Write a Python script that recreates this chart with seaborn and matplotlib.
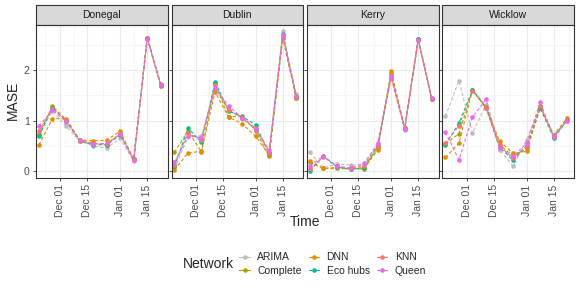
import pandas as pd
import matplotlib
matplotlib.use('Agg')
import matplotlib.pyplot as plt
import matplotlib.dates as mdates
from matplotlib.patches import Rectangle
from matplotlib.lines import Line2D
from matplotlib.ticker import MultipleLocator
import seaborn as sns

# weekly forecast dates
dates = pd.date_range('2020-11-20', periods=10, freq='7D')

regions = ['Donegal', 'Dublin', 'Kerry', 'Wicklow']
networks = ['ARIMA', 'Complete', 'DNN', 'Eco hubs', 'KNN', 'Queen']
colors = ['#BDBDBD', '#B3A000', '#DF8F00', '#00BF8E', '#F8766D', '#EA6AEE']

# MASE per network, one dict per region
donegal = {
    'ARIMA':    [0.72, 1.19, 0.89, 0.60, 0.50, 0.45, 0.65, 0.19, 2.62, 1.68],
    'Complete': [0.74, 1.29, 1.02, 0.62, 0.55, 0.52, 0.74, 0.23, 2.65, 1.71],
    'DNN':      [0.52, 1.04, 1.04, 0.62, 0.60, 0.61, 0.79, 0.23, 2.65, 1.69],
    'Eco hubs': [0.69, 1.26, 1.00, 0.59, 0.52, 0.52, 0.72, 0.23, 2.65, 1.71],
    'KNN':      [0.80, 1.24, 1.01, 0.60, 0.54, 0.53, 0.74, 0.22, 2.64, 1.72],
    'Queen':    [0.89, 1.21, 0.98, 0.61, 0.54, 0.55, 0.73, 0.22, 2.63, 1.70],
}
dublin = {
    'ARIMA':    [0.05, 0.67, 0.70, 1.62, 1.22, 1.04, 0.82, 0.37, 2.77, 1.52],
    'Complete': [0.37, 0.79, 0.38, 1.75, 1.07, 1.10, 0.80, 0.29, 2.65, 1.44],
    'DNN':      [0.02, 0.36, 0.39, 1.57, 1.07, 0.94, 0.69, 0.31, 2.65, 1.45],
    'Eco hubs': [0.09, 0.85, 0.57, 1.77, 1.19, 1.08, 0.92, 0.35, 2.72, 1.47],
    'KNN':      [0.12, 0.75, 0.62, 1.70, 1.22, 1.05, 0.85, 0.36, 2.70, 1.47],
    'Queen':    [0.17, 0.70, 0.66, 1.65, 1.29, 1.06, 0.83, 0.42, 2.70, 1.48],
}
kerry = {
    'ARIMA':    [0.37, 0.06, 0.14, 0.12, 0.12, 0.52, 1.90, 0.82, 2.62, 1.44],
    'Complete': [0.17, 0.05, 0.07, 0.05, 0.06, 0.45, 1.95, 0.85, 2.62, 1.42],
    'DNN':      [0.19, 0.05, 0.05, 0.04, 0.04, 0.42, 1.99, 0.86, 2.60, 1.42],
    'Eco hubs': [0.01, 0.29, 0.08, 0.03, 0.06, 0.49, 1.86, 0.84, 2.62, 1.43],
    'KNN':      [0.04, 0.28, 0.10, 0.05, 0.10, 0.50, 1.88, 0.85, 2.61, 1.43],
    'Queen':    [0.10, 0.30, 0.09, 0.06, 0.15, 0.55, 1.87, 0.84, 2.61, 1.44],
}
wicklow = {
    'ARIMA':    [1.09, 1.79, 0.75, 1.32, 0.42, 0.10, 0.62, 1.27, 0.71, 1.00],
    'Complete': [0.54, 0.74, 1.60, 1.27, 0.52, 0.30, 0.45, 1.29, 0.68, 1.02],
    'DNN':      [0.27, 0.55, 1.61, 1.28, 0.59, 0.35, 0.39, 1.25, 0.72, 1.05],
    'Eco hubs': [0.52, 0.95, 1.61, 1.25, 0.48, 0.21, 0.49, 1.25, 0.65, 1.01],
    'KNN':      [0.55, 0.90, 1.59, 1.26, 0.50, 0.25, 0.50, 1.30, 0.67, 1.02],
    'Queen':    [0.77, 0.22, 1.07, 1.42, 0.45, 0.29, 0.55, 1.37, 0.69, 1.00],
}

# long format table
rows = []
for region, vals in zip(regions, [donegal, dublin, kerry, wicklow]):
    for net in networks:
        for d, v in zip(dates, vals[net]):
            rows.append({'Region': region, 'Network': net, 'Time': d, 'MASE': v})
df = pd.DataFrame(rows)

sns.set_style('white')
plt.rcParams['font.family'] = ['Liberation Sans', 'DejaVu Sans']

palette = dict(zip(networks, colors))
fig, axes = plt.subplots(1, 4, figsize=(5.81, 2.9), dpi=100, sharex=True, sharey=True)
fig.subplots_adjust(left=0.062, right=0.988, top=0.914, bottom=0.386, wspace=0.03)

for ax, region in zip(axes, regions):
    sub = df[df['Region'] == region]
    sns.lineplot(data=sub, x='Time', y='MASE', hue='Network', hue_order=networks,
                 palette=palette, marker='o', markersize=3.3, markeredgewidth=0,
                 linewidth=0.8, estimator=None, legend=False, ax=ax)
    for ln in ax.lines:
        ln.set_dashes([3, 2])

    ax.set_xlim(pd.Timestamp('2020-11-18 12:00'), pd.Timestamp('2021-01-25 12:00'))
    ax.set_ylim(-0.14, 2.9)
    ax.xaxis.set_major_locator(mdates.DayLocator(bymonthday=[1, 15]))
    ax.xaxis.set_minor_locator(mdates.DayLocator(bymonthday=[8, 23]))
    ax.xaxis.set_major_formatter(mdates.DateFormatter('%b %d'))
    ax.yaxis.set_major_locator(MultipleLocator(1))
    ax.yaxis.set_minor_locator(MultipleLocator(0.5))
    ax.grid(which='major', color='#EBEBEB', linewidth=0.8)
    ax.grid(which='minor', color='#F2F2F2', linewidth=0.5)
    ax.set_axisbelow(True)
    ax.tick_params(axis='x', which='major', labelrotation=90, labelsize=7.5,
                   labelcolor='#4D4D4D', length=2.5, width=0.6, color='#333333', pad=2, bottom=True)
    ax.tick_params(axis='y', which='major', labelsize=7.5, labelcolor='#4D4D4D',
                   length=2.5, width=0.6, color='#333333', pad=2, left=True)
    ax.tick_params(which='minor', length=0)
    for s in ax.spines.values():
        s.set_color('#333333')
        s.set_linewidth(0.8)
    ax.set_xlabel('')
    ax.set_ylabel('')

    # facet strip
    strip = Rectangle((0, 1), 1, 20 / 153, transform=ax.transAxes, clip_on=False,
                      facecolor='#D9D9D9', edgecolor='#333333', linewidth=0.8)
    ax.add_patch(strip)
    ax.text(0.5, 1 + 10 / 153, region, transform=ax.transAxes, ha='center', va='center',
            fontsize=7.5, color='#1A1A1A')

fig.text(0.022, (290 - 100) / 290, 'MASE', rotation=90, ha='center', va='center', fontsize=10)
fig.text(305 / 581, 1 - 222 / 290, 'Time', ha='center', va='center', fontsize=10)

handles = [Line2D([0], [0], color=c, marker='o', markersize=3.3, markeredgewidth=0,
                  linewidth=0.8) for c in colors]
fig.legend(handles, networks, loc='center left', ncol=3, frameon=False,
           bbox_to_anchor=(230 / 581, 1 - 264 / 290), fontsize=7.5,
           handlelength=1.0, handletextpad=0.7, columnspacing=0.7, labelspacing=0.3)
fig.text(183 / 581, 1 - 264 / 290, 'Network', ha='left', va='center', fontsize=10)

fig.savefig('out.png', dpi=100)
